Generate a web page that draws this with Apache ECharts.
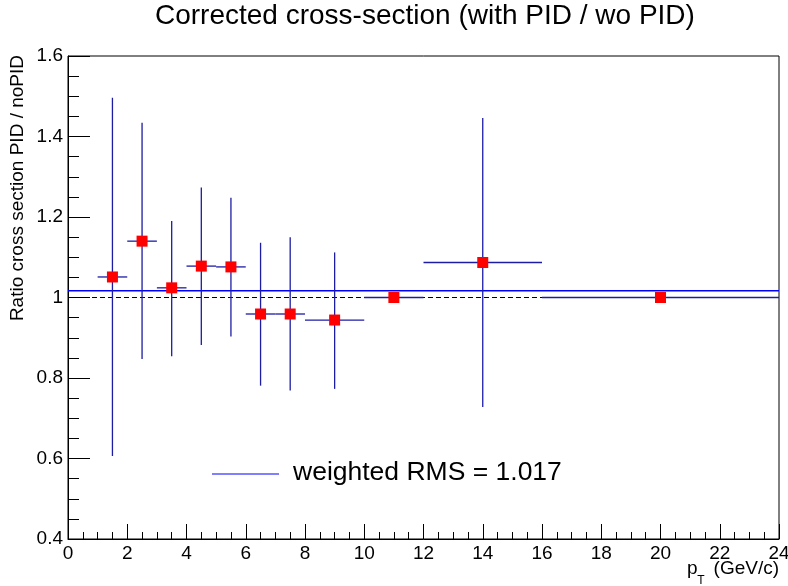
<!DOCTYPE html>
<html>
<head>
<meta charset="utf-8">
<script src="https://cdn.jsdelivr.net/npm/echarts@6/dist/echarts.min.js"></script>
<style>html,body{margin:0;padding:0;background:#fff;overflow:hidden}#c{width:788px;height:586px}</style>
</head>
<body>
<div id="c"></div>
<script>
// ---- data ----
const binLow  = [1, 2, 3, 4, 5, 6, 7, 8, 10, 12, 16];
const binHigh = [2, 3, 4, 5, 6, 7, 8, 10, 12, 16, 24];
const ratio   = [1.051, 1.140, 1.024, 1.078, 1.076, 0.959, 0.959, 0.944, 1.000, 1.087, 1.000];
const errLow  = [0.445, 0.293, 0.170, 0.196, 0.173, 0.178, 0.190, 0.171, 0.000, 0.359, 0.000];
const errHigh = [0.445, 0.294, 0.166, 0.195, 0.172, 0.177, 0.191, 0.168, 0.000, 0.359, 0.000];
const weightedRMS = 1.017;
const refValue = 1.0;
const xRange = [0, 24];
const yRange = [0.4, 1.6];
const titleText = 'Corrected cross-section (with PID / wo PID)';
const yTitle = 'Ratio cross section PID / noPID';
const legendText = 'weighted RMS = ' + weightedRMS.toFixed(3);

const centers = binLow.map((l, i) => (l + binHigh[i]) / 2);
const errData = centers.map((c, i) => [c, ratio[i], binLow[i], binHigh[i], ratio[i] - errLow[i], ratio[i] + errHigh[i]]);
const ptData = centers.map((c, i) => [c, ratio[i]]);

const font = "'Liberation Sans', Arial, Helvetica, sans-serif";
const errColor = '#1c1ca4';

const chart = echarts.init(document.getElementById('c'), null, {renderer: 'canvas', width: 788, height: 586});
chart.setOption({
  animation: false,
  backgroundColor: '#fff',
  grid: {left: 68, right: 9, top: 56, bottom: 47, containLabel: false, outerBoundsMode: 'none',
         show: true, borderColor: '#000', borderWidth: 1, backgroundColor: 'transparent'},
  xAxis: {
    type: 'value', min: xRange[0], max: xRange[1], interval: 2,
    axisLine: {show: true, lineStyle: {color: '#000', width: 1}},
    axisTick: {show: true, inside: true, length: 15, lineStyle: {color: '#000'}},
    minorTick: {show: true, splitNumber: 4, length: 7, lineStyle: {color: '#000'}},
    splitLine: {show: false},
    axisLabel: {show: true, color: '#000', fontFamily: font, fontSize: 19, margin: 5, showMinLabel: true, showMaxLabel: true, hideOverlap: false}
  },
  yAxis: {
    type: 'value', min: yRange[0], max: yRange[1], interval: 0.2,
    axisLine: {show: true, lineStyle: {color: '#000', width: 1}},
    axisTick: {show: true, inside: true, length: 22, lineStyle: {color: '#000'}},
    minorTick: {show: true, splitNumber: 4, length: 11, lineStyle: {color: '#000'}},
    splitLine: {show: false},
    axisLabel: {show: true, color: '#000', fontFamily: font, fontSize: 19, margin: 5,
      formatter: v => String(parseFloat(v.toFixed(2)))}
  },
  graphic: [
    {type: 'text', x: 155, y: 16,
     style: {text: titleText, fontFamily: font, fontSize: 28, fill: '#000', align: 'left', verticalAlign: 'middle'}},
    {type: 'text', x: 18, y: 55, rotation: Math.PI / 2,
     style: {text: yTitle, fontFamily: font, fontSize: 19, fill: '#000', align: 'right', verticalAlign: 'middle'}},
    {type: 'text', x: 779, y: 569,
     style: {text: '(GeV/c)', fontFamily: font, fontSize: 19, fill: '#000', align: 'right', verticalAlign: 'middle'}},
    {type: 'text', x: 687, y: 569,
     style: {text: 'p', fontFamily: font, fontSize: 19, fill: '#000', align: 'left', verticalAlign: 'middle'}},
    {type: 'text', x: 701, y: 581,
     style: {text: 'T', fontFamily: font, fontSize: 12, fill: '#000', align: 'center', verticalAlign: 'middle'}},
    {type: 'line', shape: {x1: 212, y1: 474, x2: 279, y2: 474}, style: {stroke: '#0000ff', lineWidth: 1.2}},
    {type: 'text', x: 293, y: 473,
     style: {text: legendText, fontFamily: font, fontSize: 26.5, fill: '#000', align: 'left', verticalAlign: 'middle'}}
  ],
  series: [
    {
      type: 'line', data: [[xRange[0], refValue], [xRange[1], refValue]], symbol: 'none', silent: true,
      lineStyle: {color: '#000', width: 1.2, type: [5, 3]}, z: 1
    },
    {
      type: 'line', data: [[xRange[0], weightedRMS], [xRange[1], weightedRMS]], symbol: 'none', silent: true,
      lineStyle: {color: '#0000ff', width: 1.5}, z: 2
    },
    {
      type: 'custom', data: errData, z: 3,
      renderItem: function (params, api) {
        const y = api.value(1);
        const pL = api.coord([api.value(2), y]);
        const pR = api.coord([api.value(3), y]);
        const pT = api.coord([api.value(0), api.value(5)]);
        const pB = api.coord([api.value(0), api.value(4)]);
        const st = {stroke: errColor, lineWidth: 1.3};
        return {type: 'group', children: [
          {type: 'line', shape: {x1: pL[0], y1: pL[1], x2: pR[0], y2: pR[1]}, style: st},
          {type: 'line', shape: {x1: pT[0], y1: pT[1], x2: pB[0], y2: pB[1]}, style: st}
        ]};
      }
    },
    {
      type: 'scatter', data: ptData, symbol: 'rect', symbolSize: 11, z: 4,
      itemStyle: {color: '#ff0000', opacity: 1}
    }
  ]
});
</script>
</body>
</html>
